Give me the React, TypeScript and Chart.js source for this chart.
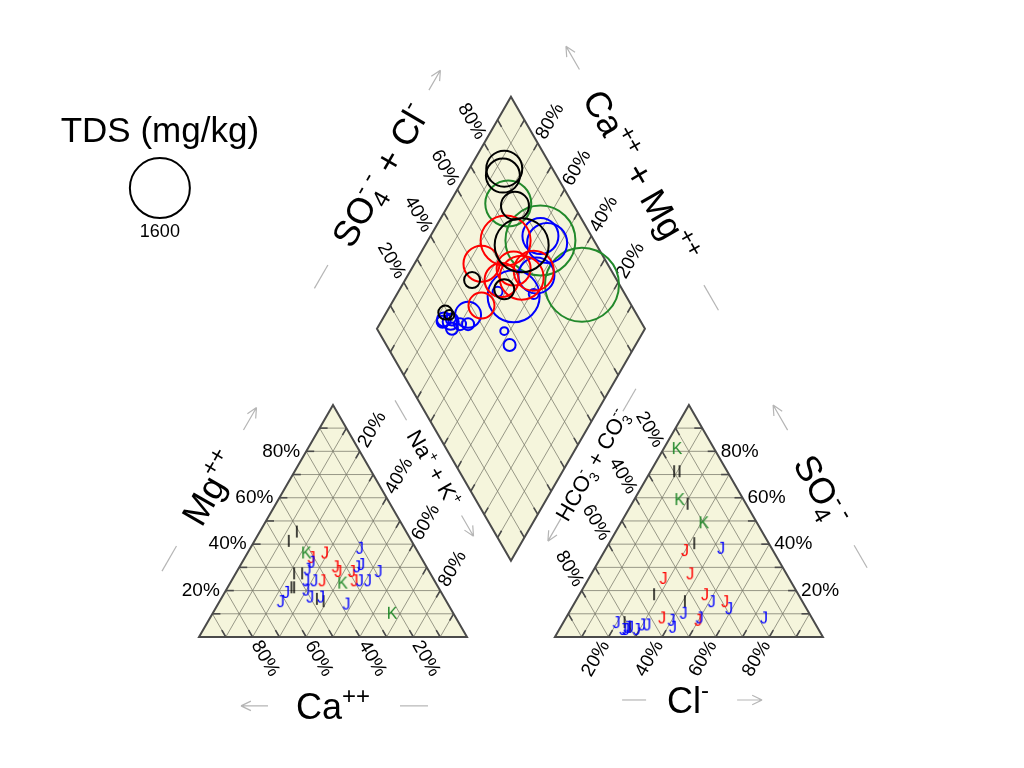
import React, { useEffect, useRef } from 'react';
import { Chart, registerables } from 'chart.js';

Chart.register(...registerables);

// ---------------- DATA ----------------
const groupNames = ['Blue samples', 'Red samples', 'Black samples', 'Green samples'];
const groupColors = ['#0000FF', '#FF0000', '#000000', '#22892B'];
const groupSymbols = ['J', 'J', 'I', 'K'];

const sampleGroup = [
  0, 0, 0, 0, 0, 0, 0, 0, 0, 0, 0, 0, 0, 0, 0, 0,
  1, 1, 1, 1, 1, 1, 1,
  2, 2, 2, 2, 2, 2, 2, 2,
  3, 3, 3,
];
const caPct = [
  21, 24, 28, 26, 46, 25, 45, 42, 48, 50, 50, 38, 19, 58, 62, 45,
  35, 41, 34, 29, 30, 34, 42,
  46, 41, 54, 48, 48, 46, 51, 55,
  42, 35, 23,
];
const mgPct = [
  38, 31, 24, 30, 17, 24, 24, 32, 24, 20, 17, 14, 28, 19, 15, 29,
  36, 34, 28, 28, 24, 30, 24,
  41, 45, 21, 16, 27, 15, 27, 21,
  36, 23, 10,
];
const naKPct = [
  41, 45, 48, 44, 37, 51, 31, 26, 28, 30, 33, 48, 53, 23, 23, 26,
  29, 25, 38, 43, 46, 36, 34,
  13, 14, 25, 36, 25, 39, 22, 24,
  22, 42, 67,
];
const clPct = [
  43, 74, 59, 50, 43, 51, 32, 25, 25, 29, 30, 40, 42, 20, 24, 26,
  30, 28, 37, 47, 56, 50, 36,
  11, 9, 21, 32, 28, 41, 23, 26,
  17, 31, 5,
];
const so4Pct = [
  38, 8, 12, 8, 10, 15, 5, 4, 3, 3, 5, 7, 4, 6, 3, 4,
  37, 25, 27, 18, 15, 7, 8,
  71, 71, 57, 40, 18, 15, 6, 4,
  59, 49, 81,
];
const hco3Pct = [
  19, 18, 29, 42, 47, 34, 63, 71, 72, 68, 65, 53, 54, 74, 73, 70,
  33, 47, 36, 35, 29, 43, 56,
  18, 20, 22, 28, 54, 44, 71, 70,
  24, 20, 14,
];
const tdsMgKg = [
  576, 711, 576, 1202, 44, 44, 300, 114, 64, 64, 64, 28, 64, 64, 87, 64,
  1111, 576, 514, 860, 711, 514, 300,
  576, 514, 348, 1296, 114, 178, 87, 44,
  940, 2178, 2434,
];

const tickPercents = [20, 40, 60, 80];
const gridPercents = [10, 20, 30, 40, 50, 60, 70, 80, 90];
const legendTds = 1600;
const legendTitle = 'TDS (mg/kg)';

// ---------------- GEOMETRY (Piper layout, unit side) ----------------
const S = Math.sqrt(3) / 2;
const GAP = 0.328;
const OX = 1 + GAP;

function cationXY(i: number) {
  const tot = caPct[i] + mgPct[i] + naKPct[i];
  const m = mgPct[i] / tot;
  const n = naKPct[i] / tot;
  return { x: n + m / 2, y: S * m };
}
function anionXY(i: number) {
  const tot = clPct[i] + so4Pct[i] + hco3Pct[i];
  const s = so4Pct[i] / tot;
  const c = clPct[i] / tot;
  return { x: OX + c + s / 2, y: S * s };
}
function D(n: number, h: number) {
  return { x: (2 + GAP + n - h) / 2, y: S * (2 + GAP - n - h) };
}
function diamondXY(i: number) {
  const n = naKPct[i] / (caPct[i] + mgPct[i] + naKPct[i]);
  const h = hco3Pct[i] / (clPct[i] + so4Pct[i] + hco3Pct[i]);
  return D(n, h);
}
function tdsRadius(t: number) {
  return 30 * Math.sqrt(t / 1600);
}

const FONT = '"Liberation Sans", Arial, Helvetica, sans-serif';
const FILL = '#F5F5DC';
const GRID = 'rgba(120,120,105,0.75)';
const EDGE = '#4a4a4a';
const ARROW = '#b5b5b5';

type RSeg = { t: string; s: number; dy?: number; stack?: boolean };

function drawRich(ctx: CanvasRenderingContext2D, segs: RSeg[], cx: number, cy: number, angDeg: number) {
  const starts: number[] = [];
  let x = 0;
  let prevStart = 0;
  let maxX = 0;
  for (const g of segs) {
    ctx.font = `${g.s}px ${FONT}`;
    const w = ctx.measureText(g.t).width;
    const st = g.stack ? prevStart : x;
    starts.push(st);
    if (!g.stack) prevStart = st;
    x = Math.max(x, st + w);
    maxX = Math.max(maxX, x);
  }
  const main = segs[0].s;
  ctx.save();
  ctx.translate(cx, cy);
  ctx.rotate((angDeg * Math.PI) / 180);
  ctx.fillStyle = '#000';
  ctx.textAlign = 'left';
  ctx.textBaseline = 'alphabetic';
  segs.forEach((g, k) => {
    ctx.font = `${g.s}px ${FONT}`;
    ctx.fillText(g.t, -maxX / 2 + starts[k], main * 0.36 + (g.dy || 0));
  });
  ctx.restore();
}

function drawText(ctx: CanvasRenderingContext2D, t: string, x: number, y: number, angDeg: number, align: CanvasTextAlign, size: number) {
  ctx.save();
  ctx.translate(x, y);
  ctx.rotate((angDeg * Math.PI) / 180);
  ctx.font = `${size}px ${FONT}`;
  ctx.fillStyle = '#000';
  ctx.textAlign = align;
  ctx.textBaseline = 'middle';
  ctx.fillText(t, 0, 0);
  ctx.restore();
}

type Title = {
  pos: [number, number];
  angle: number;
  segs: RSeg[];
  line: [number, number];
  arrow: [number, number];
};

const titles: Title[] = [
  { pos: [0.041, 0.556], angle: -60, segs: [{ t: 'Mg', s: 36 }, { t: '++', s: 24, dy: -15 }], line: [-96, -67], arrow: [67, 93] },
  { pos: [0.5, -0.257], angle: 0, segs: [{ t: 'Ca', s: 36 }, { t: '++', s: 24, dy: -15 }], line: [67, 95], arrow: [-65, -92] },
  {
    pos: [0.877, 0.631], angle: 60,
    segs: [{ t: 'Na', s: 22 }, { t: '+', s: 14, dy: -9 }, { t: ' + K', s: 22 }, { t: '+', s: 14, dy: -9 }],
    line: [-78, -55], arrow: [55, 79],
  },
  {
    pos: [1.466, 0.642], angle: -60,
    segs: [
      { t: 'HCO', s: 22 }, { t: '3', s: 14, dy: 5 }, { t: '-', s: 14, dy: -10, stack: true },
      { t: ' + CO', s: 22 }, { t: '3', s: 14, dy: 5 }, { t: '--', s: 14, dy: -10, stack: true },
    ],
    line: [62, 88], arrow: [-62, -88],
  },
  {
    pos: [2.325, 0.549], angle: 60,
    segs: [{ t: 'SO', s: 36 }, { t: '4', s: 24, dy: 8 }, { t: '- -', s: 24, dy: -15, stack: true }],
    line: [64, 90], arrow: [-69, -98],
  },
  { pos: [1.825, -0.235], angle: 0, segs: [{ t: 'Cl', s: 36 }, { t: '-', s: 24, dy: -15 }], line: [-66, -42], arrow: [49, 74] },
  {
    pos: [0.675, 1.724], angle: -60,
    segs: [
      { t: 'SO', s: 36 }, { t: '4', s: 24, dy: 8 }, { t: '- -', s: 24, dy: -15, stack: true },
      { t: ' + Cl', s: 36 }, { t: '-', s: 24, dy: -15 },
    ],
    line: [-131, -104], arrow: [98, 121],
  },
  {
    pos: [1.649, 1.72], angle: 60,
    segs: [{ t: 'Ca', s: 36 }, { t: '++', s: 24, dy: -15 }, { t: ' + Mg', s: 36 }, { t: '++', s: 24, dy: -15 }],
    line: [126, 155], arrow: [-123, -150],
  },
];

const legendPos: [number, number] = [-0.146, 1.884];
const legendCirclePos: [number, number] = [-0.146, 1.675];
const legendValuePos: [number, number] = [-0.146, 1.511];

const piperFrame = {
  id: 'piperFrame',
  beforeDatasetsDraw(chart: any) {
    const ctx = chart.ctx as CanvasRenderingContext2D;
    const xs = chart.scales.x;
    const ys = chart.scales.y;
    const P = (u: number, v: number): [number, number] => [xs.getPixelForValue(u), ys.getPixelForValue(v)];
    const leftTri: [number, number][] = [[0, 0], [1, 0], [0.5, S]];
    const rightTri: [number, number][] = [[OX, 0], [OX + 1, 0], [OX + 0.5, S]];
    const dia: [number, number][] = [D(1, 1), D(0, 1), D(0, 0), D(1, 0)].map((p) => [p.x, p.y] as [number, number]);
    ctx.save();
    const path = (poly: [number, number][]) => {
      ctx.beginPath();
      poly.forEach(([u, v], k) => {
        const [x, y] = P(u, v);
        if (k) ctx.lineTo(x, y);
        else ctx.moveTo(x, y);
      });
      ctx.closePath();
    };
    for (const poly of [leftTri, rightTri, dia]) {
      path(poly);
      ctx.fillStyle = FILL;
      ctx.fill();
    }
    type GS = { a: [number, number]; b: [number, number]; ta?: boolean; tb?: boolean };
    const segs: GS[] = [];
    for (const pc of gridPercents) {
      const f = pc / 100;
      segs.push({ a: [f / 2, S * f], b: [1 - f / 2, S * f], ta: true });
      segs.push({ a: [1 - f, 0], b: [(1 - f) / 2, S * (1 - f)], ta: true });
      segs.push({ a: [f, 0], b: [(1 + f) / 2, S * (1 - f)], tb: true });
      segs.push({ a: [OX + f / 2, S * f], b: [OX + 1 - f / 2, S * f], tb: true });
      segs.push({ a: [OX + 1 - f, 0], b: [OX + (1 - f) / 2, S * (1 - f)], tb: true });
      segs.push({ a: [OX + f, 0], b: [OX + (1 + f) / 2, S * (1 - f)], ta: true });
      const p1 = D(f, 0), p2 = D(f, 1);
      segs.push({ a: [p1.x, p1.y], b: [p2.x, p2.y], ta: true, tb: true });
      const q1 = D(0, f), q2 = D(1, f);
      segs.push({ a: [q1.x, q1.y], b: [q2.x, q2.y], ta: true, tb: true });
    }
    ctx.strokeStyle = GRID;
    ctx.lineWidth = 1;
    for (const g of segs) {
      const [x1, y1] = P(g.a[0], g.a[1]);
      const [x2, y2] = P(g.b[0], g.b[1]);
      ctx.beginPath();
      ctx.moveTo(x1, y1);
      ctx.lineTo(x2, y2);
      ctx.stroke();
    }
    // ticks
    ctx.strokeStyle = EDGE;
    ctx.lineWidth = 1.6;
    const tick = (a: [number, number], b: [number, number]) => {
      const [x1, y1] = P(a[0], a[1]);
      const [x2, y2] = P(b[0], b[1]);
      const L = Math.hypot(x2 - x1, y2 - y1);
      ctx.beginPath();
      ctx.moveTo(x1, y1);
      ctx.lineTo(x1 + ((x2 - x1) / L) * 8, y1 + ((y2 - y1) / L) * 8);
      ctx.stroke();
    };
    for (const g of segs) {
      if (g.ta) tick(g.a, g.b);
      if (g.tb) tick(g.b, g.a);
    }
    // outlines
    ctx.strokeStyle = EDGE;
    ctx.lineWidth = 2;
    ctx.lineJoin = 'miter';
    for (const poly of [leftTri, rightTri, dia]) {
      path(poly);
      ctx.stroke();
    }
    // tick labels
    const c60 = 0.5, s60 = S;
    for (const pc of tickPercents) {
      const f = pc / 100;
      const lab = `${pc}%`;
      let [x, y] = P(f / 2, S * f);
      drawText(ctx, lab, x - 6, y, 0, 'right', 19);
      [x, y] = P(1 - f, 0);
      drawText(ctx, lab, x + 6 * c60, y + 6 * s60, 60, 'left', 19);
      [x, y] = P((1 + f) / 2, S * (1 - f));
      drawText(ctx, lab, x + 6 * c60, y - 6 * s60, -60, 'left', 19);
      [x, y] = P(OX + 0.5 * (1 - f), S * (1 - f));
      drawText(ctx, lab, x - 6 * c60, y - 6 * s60, 60, 'right', 19);
      [x, y] = P(OX + 1 - f / 2, S * f);
      drawText(ctx, lab, x + 5, y, 0, 'left', 19);
      [x, y] = P(OX + f, 0);
      drawText(ctx, lab, x - 6 * c60, y + 6 * s60, -60, 'right', 19);
      const dl = D(0, 1 - f);
      [x, y] = P(dl.x, dl.y);
      drawText(ctx, lab, x - 6 * c60, y - 6 * s60, 60, 'right', 19);
      const dr = D(1 - f, 0);
      [x, y] = P(dr.x, dr.y);
      drawText(ctx, lab, x + 6 * c60, y - 6 * s60, -60, 'left', 19);
    }
    // titles and arrows
    for (const t of titles) {
      const [cx, cy] = P(t.pos[0], t.pos[1]);
      drawRich(ctx, t.segs, cx, cy, t.angle);
      const a = (t.angle * Math.PI) / 180;
      const dx = Math.cos(a), dy = Math.sin(a);
      ctx.strokeStyle = ARROW;
      ctx.lineWidth = 1.2;
      ctx.beginPath();
      ctx.moveTo(cx + dx * t.line[0], cy + dy * t.line[0]);
      ctx.lineTo(cx + dx * t.line[1], cy + dy * t.line[1]);
      ctx.stroke();
      const sx = cx + dx * t.arrow[0], sy = cy + dy * t.arrow[0];
      const ex = cx + dx * t.arrow[1], ey = cy + dy * t.arrow[1];
      ctx.beginPath();
      ctx.moveTo(sx, sy);
      ctx.lineTo(ex, ey);
      const back = Math.atan2(sy - ey, sx - ex);
      for (const sgn of [-1, 1]) {
        const ang = back + sgn * 0.45;
        ctx.moveTo(ex, ey);
        ctx.lineTo(ex + Math.cos(ang) * 11, ey + Math.sin(ang) * 11);
      }
      ctx.stroke();
    }
    // legend
    {
      const [lx, ly] = P(legendPos[0], legendPos[1]);
      drawText(ctx, legendTitle, lx, ly, 0, 'center', 35);
      const [ccx, ccy] = P(legendCirclePos[0], legendCirclePos[1]);
      ctx.beginPath();
      ctx.arc(ccx, ccy, tdsRadius(legendTds), 0, Math.PI * 2);
      ctx.strokeStyle = '#000';
      ctx.lineWidth = 2;
      ctx.stroke();
      const [vx, vy] = P(legendValuePos[0], legendValuePos[1]);
      drawText(ctx, String(legendTds), vx, vy, 0, 'center', 18);
    }
    ctx.restore();
  },
};

function makeMarker(letter: string, color: string): HTMLCanvasElement {
  const c = document.createElement('canvas');
  c.width = 14;
  c.height = 18;
  const g = c.getContext('2d') as CanvasRenderingContext2D;
  g.fillStyle = color;
  g.font = `16px ${FONT}`;
  g.textAlign = 'center';
  g.textBaseline = 'middle';
  g.fillText(letter, 7, 10);
  return c;
}

export default function App() {
  const ref = useRef<HTMLCanvasElement | null>(null);
  useEffect(() => {
    if (!ref.current) return;
    const letterSets: any[] = [];
    const bubbleSets: any[] = [];
    const bubbleOrder = [2, 1, 0, 3];
    groupNames.forEach((name, g) => {
      const idx = sampleGroup.map((gg, i) => (gg === g ? i : -1)).filter((i) => i >= 0);
      const marker = makeMarker(groupSymbols[g], groupColors[g]);
      letterSets.push({
        type: 'scatter',
        label: `${name} cations`,
        data: idx.map((i) => cationXY(i)),
        pointStyle: marker,
        pointRadius: 4,
      });
      letterSets.push({
        type: 'scatter',
        label: `${name} anions`,
        data: idx.map((i) => anionXY(i)),
        pointStyle: marker,
        pointRadius: 4,
      });
    });
    bubbleOrder.forEach((g) => {
      const idx = sampleGroup.map((gg, i) => (gg === g ? i : -1)).filter((i) => i >= 0);
      bubbleSets.push({
        type: 'bubble',
        label: `${groupNames[g]} TDS`,
        data: idx.map((i) => ({ ...diamondXY(i), r: tdsRadius(tdsMgKg[i]) })),
        borderColor: groupColors[g],
        backgroundColor: 'rgba(0,0,0,0)',
        borderWidth: 2,
      });
    });
    const chart = new Chart(ref.current, {
      type: 'scatter',
      data: { datasets: [...letterSets, ...bubbleSets] },
      options: {
        animation: false,
        responsive: false,
        devicePixelRatio: 1,
        events: [],
        layout: { padding: 0, autoPadding: false },
        plugins: { legend: { display: false }, tooltip: { enabled: false } },
        scales: {
          x: { type: 'linear', display: false, bounds: 'data', grace: 0, min: -199 / 268, max: -199 / 268 + 1024 / 268 },
          y: { type: 'linear', display: false, bounds: 'data', grace: 0, min: 637 / 268 - 768 / 268, max: 637 / 268 },
        },
      } as any,
      plugins: [piperFrame as any],
    });
    return () => chart.destroy();
  }, []);
  return (
    <div style={{ position: 'absolute', left: 0, top: 0, width: 1024, height: 768, background: '#fff' }}>
      <canvas ref={ref} width={1024} height={768} style={{ display: 'block', width: 1024, height: 768 }} />
    </div>
  );
}
